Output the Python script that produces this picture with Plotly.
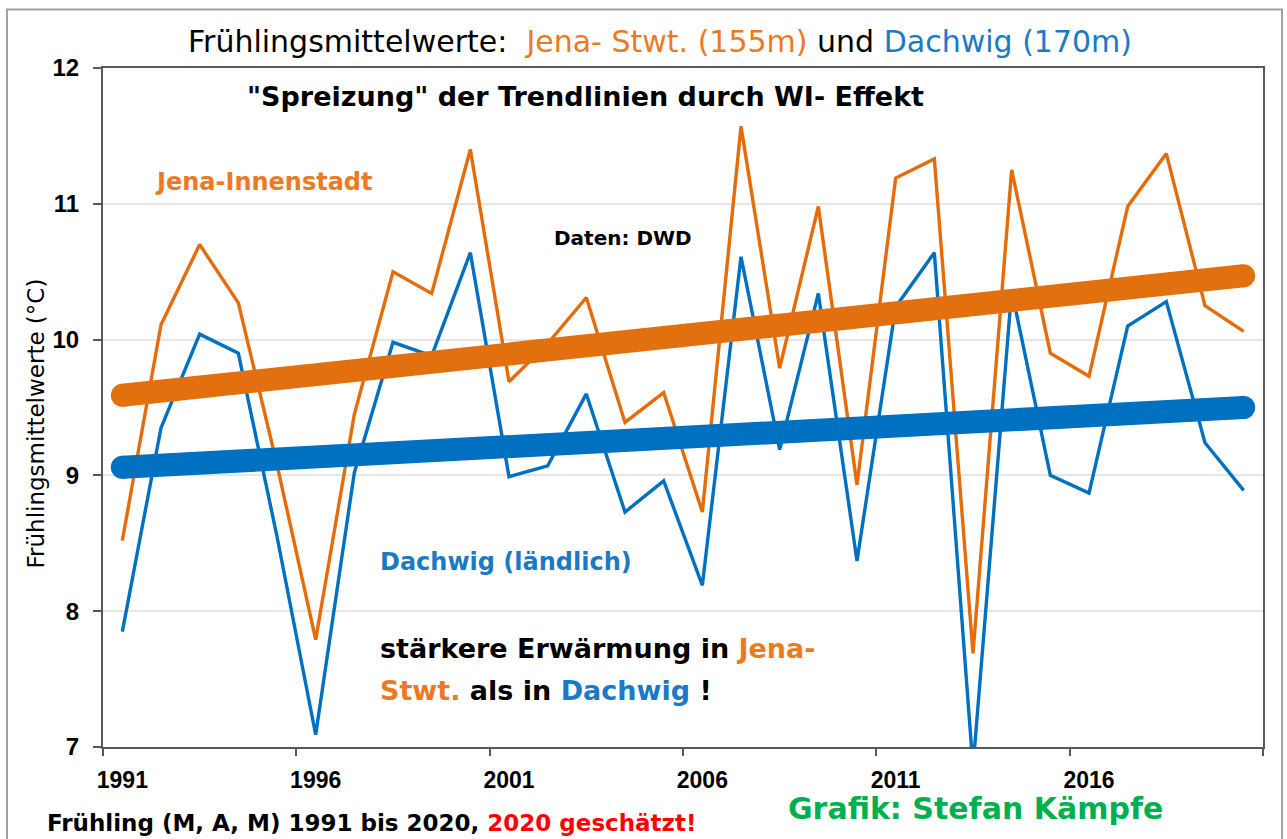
import plotly.graph_objects as go

# ---------------- data ----------------
years = list(range(1991, 2021))
jena = [8.52, 10.11, 10.70, 10.27, 9.08, 7.79, 9.45, 10.50, 10.34, 11.40,
        9.69, 9.97, 10.31, 9.39, 9.61, 8.73, 11.57, 9.79, 10.98, 8.93,
        11.19, 11.33, 7.69, 11.25, 9.90, 9.73, 10.98, 11.37, 10.25, 10.06]
dachwig = [7.85, 9.35, 10.04, 9.90, 8.55, 7.09, 9.02, 9.98, 9.88, 10.64,
           8.99, 9.07, 9.60, 8.73, 8.96, 8.19, 10.61, 9.19, 10.34, 8.37,
           10.24, 10.64, 6.85, 10.36, 9.00, 8.87, 10.10, 10.28, 9.24, 8.89]
trend_years = [1991, 2020]
jena_trend = [9.59, 10.47]
dachwig_trend = [9.06, 9.50]
label_years = [1991, 1996, 2001, 2006, 2011, 2016]
boundary_ticks = [1990.5, 1995.5, 2000.5, 2005.5, 2010.5, 2015.5, 2020.5]
y_ticks = [7, 8, 9, 10, 11, 12]

# ---------------- styling ----------------
W, H = 1287, 839
ML, MR, MT, MB = 103, 24, 68, 92
PW, PH = W - ML - MR, H - MT - MB

ORANGE_LINE = "#E46C0A"
ORANGE_TREND = "#E3700E"
ORANGE_TXT = "#EC7A22"
BLUE = "#0070C0"
BLUE_TXT = "#1A7AC6"
GREEN = "#00B050"
RED = "#FF0000"
AXIS = "#595959"
WIDE = "DejaVu Sans"
ARIAL = "Liberation Sans, Arial"


def px(x):
    return (x - ML) / PW


def py(y):
    return (H - MB - y) / PH


fig = go.Figure()

fig.add_trace(go.Scatter(x=years, y=jena, mode="lines", name="Jena",
                         line=dict(color=ORANGE_LINE, width=3.4)))
fig.add_trace(go.Scatter(x=years, y=dachwig, mode="lines", name="Dachwig",
                         line=dict(color=BLUE, width=3.4)))
fig.add_trace(go.Scatter(x=trend_years, y=dachwig_trend, mode="lines+markers",
                         line=dict(color=BLUE, width=23),
                         marker=dict(color=BLUE, size=23, line=dict(width=0))))
fig.add_trace(go.Scatter(x=trend_years, y=jena_trend, mode="lines+markers",
                         line=dict(color=ORANGE_TREND, width=23),
                         marker=dict(color=ORANGE_TREND, size=23, line=dict(width=0))))

fig.update_xaxes(
    range=[1990.5, 2020.5],
    tickmode="array", tickvals=label_years, ticktext=[str(v) for v in label_years],
    ticks="", ticklabelstandoff=11,
    tickfont=dict(family=ARIAL, size=23, color="black", weight="bold"),
    showline=True, linecolor=AXIS, linewidth=2, mirror=True,
    showgrid=False, zeroline=False,
    minor=dict(tickmode="array", tickvals=boundary_ticks, ticks="outside",
               ticklen=7, tickwidth=2, tickcolor=AXIS, showgrid=False),
)
fig.update_yaxes(
    range=[7, 12],
    tickmode="array", tickvals=y_ticks, ticktext=[str(v) for v in y_ticks],
    ticks="outside", ticklen=8, tickwidth=2, tickcolor=AXIS, ticklabelstandoff=9,
    tickfont=dict(family=ARIAL, size=24, color="black", weight="bold"),
    showline=True, linecolor=AXIS, linewidth=2, mirror=True,
    showgrid=True, gridcolor="#E6E6E6", gridwidth=1.5, zeroline=False,
)

ann = []
# title
ann.append(dict(x=px(659.5), y=py(42), xanchor="center", yanchor="middle",
                text=("Frühlingsmittelwerte:  "
                      f"<span style='color:{ORANGE_TXT}'>Jena- Stwt. (155m)</span> und "
                      f"<span style='color:{BLUE_TXT}'>Dachwig (170m)</span>"),
                font=dict(family=WIDE, size=30, color="black")))
ann.append(dict(x=px(245), y=py(97), xanchor="left", yanchor="middle",
                text="\"Spreizung\" der Trendlinien durch WI- Effekt",
                font=dict(family=WIDE, size=27, color="black", weight="bold")))
ann.append(dict(x=px(153), y=py(182), xanchor="left", yanchor="middle",
                text="Jena-Innenstadt",
                font=dict(family=WIDE, size=24, color=ORANGE_TXT, weight="bold")))
ann.append(dict(x=px(552), y=py(238), xanchor="left", yanchor="middle",
                text="Daten: DWD",
                font=dict(family=WIDE, size=20, color="black", weight="bold")))
ann.append(dict(x=px(378), y=py(562), xanchor="left", yanchor="middle",
                text="Dachwig (ländlich)",
                font=dict(family=WIDE, size=24, color=BLUE_TXT, weight="bold")))
ann.append(dict(x=px(378), y=py(648), xanchor="left", yanchor="middle",
                text=f"stärkere Erwärmung in <span style='color:{ORANGE_TXT}'>Jena-</span>",
                font=dict(family=WIDE, size=27, color="black", weight="bold")))
ann.append(dict(x=px(378), y=py(690), xanchor="left", yanchor="middle",
                text=(f"<span style='color:{ORANGE_TXT}'>Stwt.</span> als in "
                      f"<span style='color:{BLUE_TXT}'>Dachwig</span> !"),
                font=dict(family=WIDE, size=27, color="black", weight="bold")))
ann.append(dict(x=px(45), y=py(823), xanchor="left", yanchor="middle",
                text=("Frühling (M, A, M) 1991 bis 2020, "
                      f"<span style='color:{RED}'>2020 geschätzt!</span>"),
                font=dict(family=WIDE, size=23, color="black", weight="bold")))
ann.append(dict(x=px(786), y=py(809), xanchor="left", yanchor="middle",
                text="Grafik: Stefan Kämpfe",
                font=dict(family=WIDE, size=30, color=GREEN, weight="bold")))
ann.append(dict(x=px(35.5), y=py(424), xanchor="center", yanchor="middle",
                textangle=-90, text="Frühlingsmittelwerte (°C)",
                font=dict(family=WIDE, size=23, color="black")))
for a in ann:
    a.update(xref="paper", yref="paper", showarrow=False)

fig.update_layout(
    width=W, height=H,
    margin=dict(l=ML, r=MR, t=MT, b=MB, pad=0),
    paper_bgcolor="white", plot_bgcolor="white",
    showlegend=False,
    annotations=ann,
    shapes=[dict(type="rect", xref="paper", yref="paper",
                 x0=px(7), x1=px(1282), y0=py(860), y1=py(9.5),
                 line=dict(color="#A0A0A0", width=2), layer="below")],
)

fig.write_html("out.html", config={"displayModeBar": False},
               post_script="document.body.style.margin='0';document.body.style.overflow='hidden';")
